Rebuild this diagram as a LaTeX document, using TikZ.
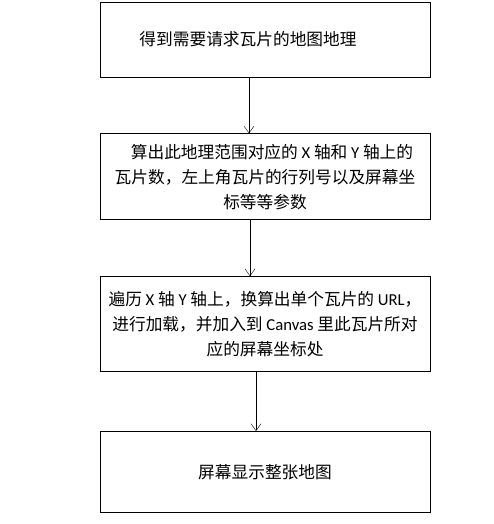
\documentclass[tikz,border=0pt]{standalone}
\usepackage{fontspec}
\setmainfont{Noto Sans CJK SC}
\newfontfamily\latfont{Carlito}
\newcommand{\lat}[1]{{\latfont #1}}
\usetikzlibrary{positioning,arrows.meta}

\begin{document}
\begin{tikzpicture}[node distance=56pt, thick, main/.style = {draw, rectangle, minimum width=330pt, align=center, inner sep=0pt, font=\fontsize{16.7pt}{25pt}\selectfont}]
            \useasboundingbox (0pt,0pt) rectangle (494pt,-524pt);
            \node[main, minimum height=75pt] (1) at (265pt,-39.5pt) {得到需要请求瓦片的地图地理\hspace*{34pt}};
            \node[main, minimum height=86pt] (2) [below=of 1] {\hspace*{14pt}算出此地理范围对应的 \lat{X} 轴和 \lat{Y} 轴上的\\瓦片数，左上角瓦片的行列号以及屏幕坐\\标等等参数};
            \node[main, minimum height=95pt] (3) [below=of 2] {遍历 \lat{X} 轴 \lat{Y} 轴上，换算出单个瓦片的 \lat{URL}，\\进行加载，并加入到 \lat{Canvas} 里此瓦片所对\\应的屏幕坐标处};
            \node[main, minimum height=81pt] (4) [below=59pt of 3] {屏幕显示整张地图};

            \path[-{Straight Barb[length=7pt,width=10pt]}, thin] ([xshift=-16pt]1.south) edge node {} ([xshift=-16pt]2.north);

            \path[-{Straight Barb[length=7pt,width=10pt]}, thin] ([xshift=-15pt]2.south) edge node {} ([xshift=-15pt]3.north);

            \path[-{Straight Barb[length=7pt,width=10pt]}, thin] ([xshift=-9pt]3.south) edge node {} ([xshift=-9pt]4.north);
        \end{tikzpicture}
\end{document}
